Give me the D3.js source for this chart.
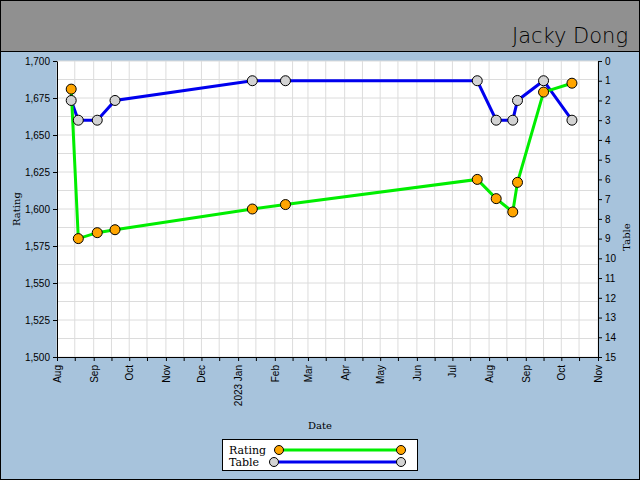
<!DOCTYPE html>
<html>
<head>
<style>
  body, html { margin: 0; padding: 0; }
  svg { display: block; font-family: "DejaVu Serif", serif; }
</style>
</head>
<body>
<svg id="svg" width="640" height="480"></svg>
<script src="https://d3js.org/d3.v7.min.js"></script>
<script>
const dates = ['2022-08-13','2022-08-19','2022-09-04','2022-09-19','2023-01-13','2023-02-10',
  '2023-07-22','2023-08-07','2023-08-21','2023-08-25','2023-09-16','2023-10-10']
const rating = [1681, 1580, 1584, 1586, 1600, 1603, 1620, 1607, 1598, 1618, 1679, 1685]
const table = [2, 3, 3, 2, 1, 1, 1, 3, 3, 2, 1, 3]
const ratingTicks = [1500, 1525, 1550, 1575, 1600, 1625, 1650, 1675, 1700]
const tableTicks = d3.range(0, 16)

const parse = d3.timeParse('%Y-%m-%d')
const svg = d3.select('#svg')
const pLeft = 57, pRight = 598, pTop = 61, pBottom = 357

svg.append('rect').attr('x', 0.5).attr('y', 0.5).attr('width', 639).attr('height', 479)
  .attr('fill', '#a7c3dc').attr('stroke', 'black')
svg.append('rect').attr('x', 0.5).attr('y', 0.5).attr('width', 639).attr('height', 51)
  .attr('fill', '#909090').attr('stroke', 'black')
svg.append('text').attr('x', 628).attr('y', 43).attr('text-anchor', 'end')
  .style('font-family', 'DejaVu Sans').style('font-weight', 200).style('font-size', '21px')
  .text('Jacky Dong')

const x = d3.scaleTime().domain([new Date(2022, 7, 1), new Date(2023, 10, 1)]).range([pLeft, pRight])
const y = d3.scaleLinear().domain([1500, 1700]).range([pBottom, pTop])
const y2 = d3.scaleLinear().domain([15, 0]).range([pBottom, pTop])

svg.append('rect').attr('x', pLeft).attr('y', pTop).attr('width', pRight - pLeft).attr('height', pBottom - pTop).attr('fill', 'white')

const months = x.ticks(d3.timeMonth.every(1))
const halves = months.slice(0, -1).map(d => new Date(d.getFullYear(), d.getMonth(), 16))
const allX = months.concat(halves)
svg.append('g').selectAll('line').data(allX).enter().append('line')
  .attr('x1', d => x(d)).attr('x2', d => x(d)).attr('y1', pTop).attr('y2', pBottom)
  .attr('stroke', '#dcdcdc')
svg.append('g').selectAll('line').data(d3.range(1500, 1701, 12.5)).enter().append('line')
  .attr('x1', pLeft).attr('x2', pRight).attr('y1', d => y(d)).attr('y2', d => y(d))
  .attr('stroke', '#dcdcdc')

const fmt = d => d.getMonth() === 0 ? d.getFullYear() + ' ' + d3.timeFormat('%b')(d) : d3.timeFormat('%b')(d)
const xAxis = svg.append('g').attr('transform', `translate(0,${pBottom})`)
  .call(d3.axisBottom(x).tickValues(allX).tickSize(4).tickSizeOuter(0).tickFormat(d => d.getDate() === 1 ? fmt(d) : ''))
xAxis.selectAll('text').attr('transform', 'rotate(-90)').attr('text-anchor', 'end')
  .attr('x', -8).attr('y', 0).attr('dy', '0.35em').style('font-size', '10px')

svg.append('g').attr('transform', `translate(${pLeft},0)`)
  .call(d3.axisLeft(y).tickValues(ratingTicks).tickSize(4).tickSizeOuter(0))
  .selectAll('text').style('font-size', '10px')
svg.append('g').attr('transform', `translate(${pRight},0)`)
  .call(d3.axisRight(y2).tickValues(tableTicks).tickSize(4).tickSizeOuter(0))
  .selectAll('text').style('font-size', '10px')
svg.selectAll('.domain').attr('stroke', 'black')

svg.append('text').attr('x', 320).attr('y', 429).attr('text-anchor', 'middle').style('font-size', '10px').text('Date')
svg.append('text').attr('transform', 'translate(20,209) rotate(-90)').attr('text-anchor', 'middle').style('font-size', '10px').text('Rating')
svg.append('text').attr('transform', 'translate(630,237) rotate(-90)').attr('text-anchor', 'middle').style('font-size', '10px').text('Table')

const rData = dates.map((d, i) => [parse(d), rating[i]])
const tData = dates.map((d, i) => [parse(d), table[i]])

svg.append('path').datum(tData).attr('fill', 'none').attr('stroke', '#0000ee').attr('stroke-width', 3)
  .attr('d', d3.line().x(d => x(d[0])).y(d => y2(d[1])))
svg.append('path').datum(rData).attr('fill', 'none').attr('stroke', '#00ee00').attr('stroke-width', 3)
  .attr('d', d3.line().x(d => x(d[0])).y(d => y(d[1])))
svg.append('g').selectAll('circle').data(tData).enter().append('circle')
  .attr('cx', d => x(d[0])).attr('cy', d => y2(d[1])).attr('r', 5)
  .attr('fill', '#d3d3d3').attr('stroke', 'black')
svg.append('g').selectAll('circle').data(rData).enter().append('circle')
  .attr('cx', d => x(d[0])).attr('cy', d => y(d[1])).attr('r', 5)
  .attr('fill', 'orange').attr('stroke', 'black')

// legend
const lg = svg.append('g')
lg.append('rect').attr('x', 222.5).attr('y', 439.5).attr('width', 195).attr('height', 31).attr('fill', 'white').attr('stroke', 'black')
const items = [['Rating', '#00ee00', 'orange', 279, 450], ['Table', '#0000ee', '#d3d3d3', 274, 462]]
items.forEach(([name, lc, fc, x0, yy]) => {
  lg.append('text').attr('x', 229).attr('y', yy + 4).style('font-size', '11px').text(name)
  lg.append('line').attr('x1', x0).attr('x2', 401).attr('y1', yy).attr('y2', yy).attr('stroke', lc).attr('stroke-width', 3)
  lg.append('circle').attr('cx', x0).attr('cy', yy).attr('r', 4.5).attr('fill', fc).attr('stroke', 'black')
  lg.append('circle').attr('cx', 401).attr('cy', yy).attr('r', 4.5).attr('fill', fc).attr('stroke', 'black')
})
</script>
</body>
</html>
